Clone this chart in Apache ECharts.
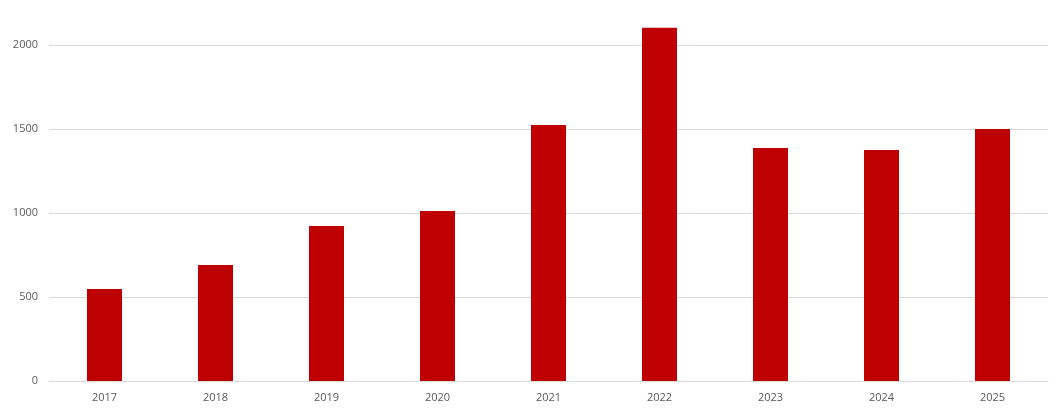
<!DOCTYPE html>
<html><head><meta charset="utf-8">
<script src="https://cdn.jsdelivr.net/npm/echarts@6/dist/echarts.min.js"></script>
<style>html,body{margin:0;padding:0;background:#fff}#c{width:1058px;height:413px}</style>
</head><body><div id="c"></div>
<script>
const categories = ['2017','2018','2019','2020','2021','2022','2023','2024','2025'];
const values = [548, 690, 923, 1012, 1524, 2103, 1387, 1375, 1500];
const yTicks = {min: 0, max: 2000, interval: 500};

const chart = echarts.init(document.getElementById('c'), null, {renderer: 'canvas'});
chart.setOption({
  animation: false,
  backgroundColor: '#ffffff',
  grid: {left: 49, right: 10, top: 45, bottom: 32, containLabel: false},
  xAxis: {
    type: 'category',
    data: categories,
    axisLine: {show: true, lineStyle: {color: '#d9d9d9', width: 1}},
    axisTick: {show: false},
    axisLabel: {color: '#595959', fontSize: 11, fontFamily: 'Open Sans', margin: 11}
  },
  yAxis: {
    type: 'value',
    min: yTicks.min, max: yTicks.max, interval: yTicks.interval,
    axisLine: {show: false},
    axisTick: {show: false},
    splitLine: {lineStyle: {color: '#d9d9d9', width: 1}},
    axisLabel: {color: '#595959', fontSize: 11, fontFamily: 'Open Sans', margin: 11,
      formatter: v => String(v)}
  },
  series: [{
    type: 'bar',
    data: values,
    barWidth: 35,
    clip: false,
    itemStyle: {color: '#bf0000'}
  }]
});
</script></body></html>
